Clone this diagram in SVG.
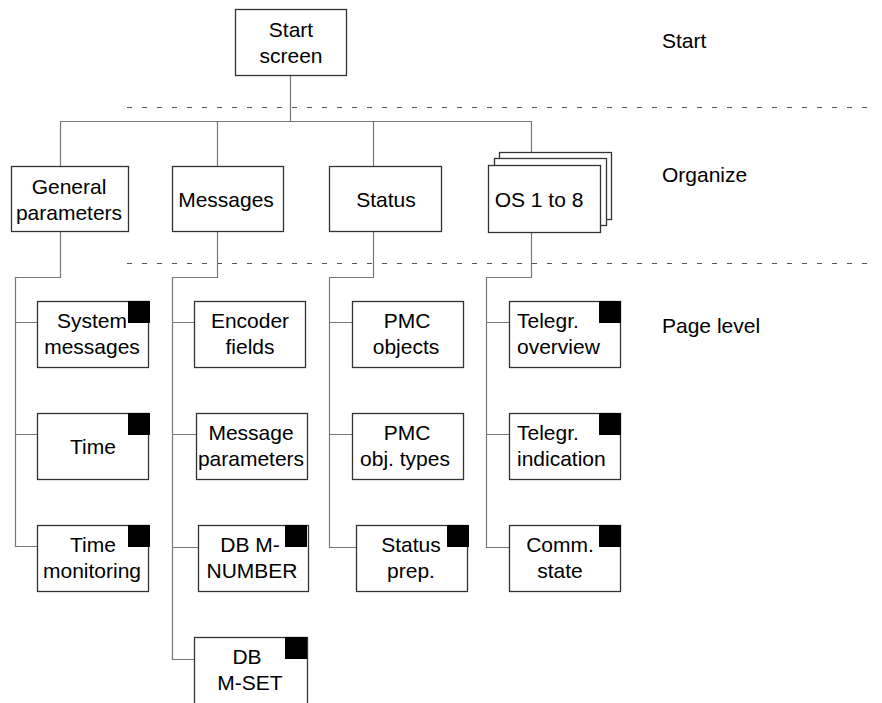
<svg xmlns="http://www.w3.org/2000/svg" width="882" height="703" viewBox="0 0 882 703">
<style>
text{font-family:"Liberation Sans",Arial,sans-serif;font-size:21px;fill:#000;text-anchor:middle}
.lbl{text-anchor:start}
.box{fill:#fff;stroke:#333;stroke-width:1.3}
.sq{fill:#000}
.c{fill:none;stroke:#777;stroke-width:1.2}
.dash{fill:none;stroke:#555;stroke-width:1;stroke-dasharray:5 10}
</style>
<rect width="882" height="703" fill="#fff"/>
<g id="levels">
<line class="dash" x1="127" y1="107.5" x2="875" y2="107.5"/>
<line class="dash" x1="127" y1="263.5" x2="875" y2="263.5"/>
<text class="lbl" x="662" y="48">Start</text>
<text class="lbl" x="662" y="182">Organize</text>
<text class="lbl" x="662" y="333">Page level</text>
</g>
<g id="connectors">
<path class="c" d="M290.5 76V121.5M60.5 166V121.5H531.5V152M217.5 121.5V166M373.5 121.5V166"/>
<path class="c" d="M60.5 232V277.5H15.5V546.5H37M15.5 322.5H37M15.5 434.5H37"/>
<path class="c" d="M217.5 232V277.5H172.5V659.5H194M172.5 322.5H194M172.5 434.5H196M172.5 547.5H198"/>
<path class="c" d="M373.5 232V277.5H329.5V547.5H356M329.5 322.5H352M329.5 434.5H352"/>
<path class="c" d="M531.5 232V277.5H486.5V547.5H509M486.5 322.5H509M486.5 434.5H509"/>
</g>
<g id="start-screen">
<rect class="box" x="235.5" y="9.5" width="111" height="66"/>
<text x="291" y="37">Start</text>
<text x="291" y="63">screen</text>
</g>
<g id="general-parameters">
<rect class="box" x="11.5" y="166.5" width="117" height="65"/>
<text x="69" y="194">General</text>
<text x="69" y="220">parameters</text>
</g>
<g id="messages">
<rect class="box" x="172.5" y="166.5" width="111" height="65"/>
<text x="226" y="207">Messages</text>
</g>
<g id="status">
<rect class="box" x="329.5" y="166.5" width="112" height="65"/>
<text x="386" y="207">Status</text>
</g>
<g id="os-1-to-8">
<rect class="box" x="499.5" y="152.5" width="112" height="67"/>
<rect class="box" x="494.5" y="158.5" width="112" height="67"/>
<rect class="box" x="488.5" y="165.5" width="112" height="67"/>
<text x="539" y="207">OS 1 to 8</text>
</g>
<g id="system-messages">
<rect class="box" x="37.5" y="301.5" width="111" height="66"/>
<text x="92" y="328">System</text>
<text x="92" y="354">messages</text>
<rect class="sq" x="128" y="301" width="22" height="22"/>
</g>
<g id="time">
<rect class="box" x="37.5" y="413.5" width="111" height="66"/>
<text x="93" y="454">Time</text>
<rect class="sq" x="128" y="413" width="22" height="22"/>
</g>
<g id="time-monitoring">
<rect class="box" x="37.5" y="525.5" width="111" height="66"/>
<text x="93" y="552">Time</text>
<text x="92" y="578">monitoring</text>
<rect class="sq" x="128" y="525" width="22" height="22"/>
</g>
<g id="encoder-fields">
<rect class="box" x="194.5" y="301.5" width="111" height="66"/>
<text x="250" y="328">Encoder</text>
<text x="250" y="354">fields</text>
</g>
<g id="message-parameters">
<rect class="box" x="196.5" y="413.5" width="111" height="66"/>
<text x="251" y="440">Message</text>
<text x="251" y="466">parameters</text>
</g>
<g id="db-m-number">
<rect class="box" x="198.5" y="525.5" width="110" height="66"/>
<text x="250" y="552">DB M-</text>
<text x="252" y="578">NUMBER</text>
<rect class="sq" x="285" y="525" width="22" height="22"/>
</g>
<g id="db-m-set">
<rect class="box" x="194.5" y="637.5" width="113" height="80"/>
<text x="247" y="664">DB</text>
<text x="250" y="690">M-SET</text>
<rect class="sq" x="285" y="637" width="22" height="22"/>
</g>
<g id="pmc-objects">
<rect class="box" x="352.5" y="301.5" width="111" height="66"/>
<text x="407" y="328">PMC</text>
<text x="406" y="354">objects</text>
</g>
<g id="pmc-obj-types">
<rect class="box" x="352.5" y="413.5" width="111" height="66"/>
<text x="407" y="440">PMC</text>
<text x="405" y="466">obj. types</text>
</g>
<g id="status-prep">
<rect class="box" x="356.5" y="525.5" width="111" height="66"/>
<text x="411" y="552">Status</text>
<text x="411" y="578">prep.</text>
<rect class="sq" x="447" y="525" width="22" height="22"/>
</g>
<g id="telegr-overview">
<rect class="box" x="509.5" y="301.5" width="111" height="66"/>
<text class="lbl" x="517" y="328">Telegr.</text>
<text class="lbl" x="517" y="354">overview</text>
<rect class="sq" x="599" y="301" width="22" height="22"/>
</g>
<g id="telegr-indication">
<rect class="box" x="509.5" y="413.5" width="111" height="66"/>
<text class="lbl" x="517" y="440">Telegr.</text>
<text class="lbl" x="517" y="466">indication</text>
<rect class="sq" x="599" y="413" width="22" height="22"/>
</g>
<g id="comm-state">
<rect class="box" x="509.5" y="525.5" width="111" height="66"/>
<text x="560" y="552">Comm.</text>
<text x="560" y="578">state</text>
<rect class="sq" x="599" y="525" width="22" height="22"/>
</g>
</svg>
